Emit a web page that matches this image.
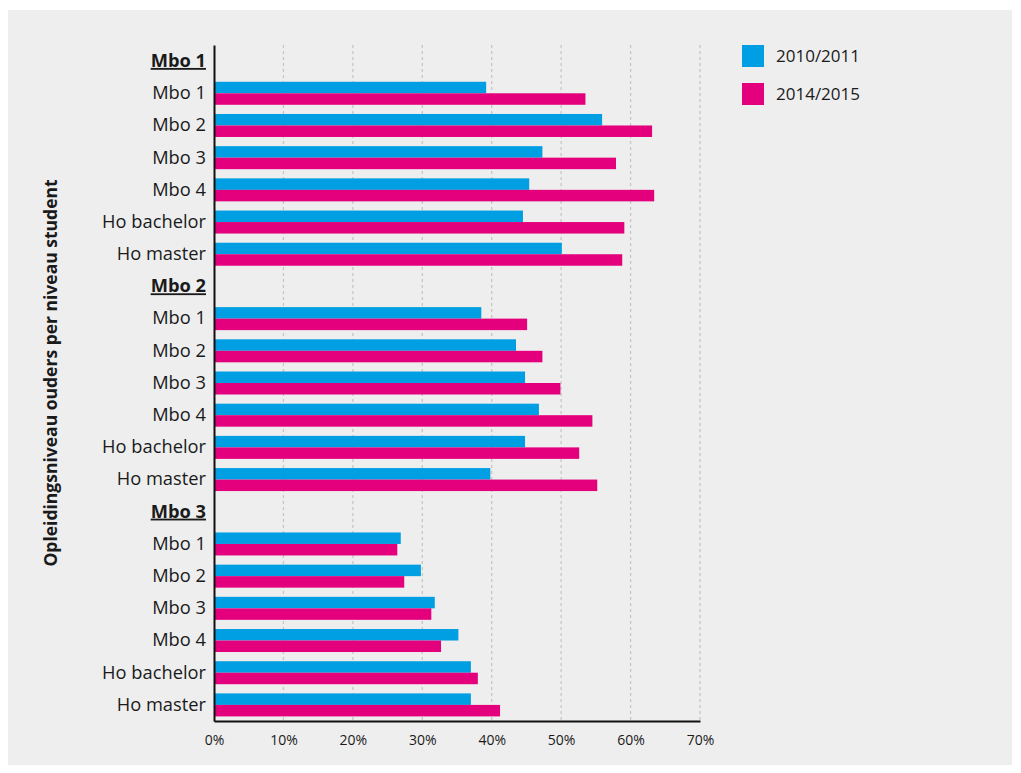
<!DOCTYPE html>
<html>
<head>
<meta charset="utf-8">
<script src="https://cdn.jsdelivr.net/npm/d3@7"></script>
<style>
  body { margin: 0; background: #ffffff; }
  svg { display: block; }
  svg text { font-family: "Open Sans", "Noto Sans", sans-serif; }
</style>
</head>
<body>
<div id="chart"></div>
<script>
const WIDTH = 1021;
const HEIGHT = 773;

// groups (niveau student) and the rows inside each group (opleidingsniveau ouders)
const groups = ["Mbo 1", "Mbo 2", "Mbo 3"];
const levels = ["Mbo 1", "Mbo 2", "Mbo 3", "Mbo 4", "Ho bachelor", "Ho master"];

const seriesNames = ["2010/2011", "2014/2015"];
const seriesColors = ["#009ee2", "#e4007c"];

// percentages, in order groups x levels
const values2010 = [
  39.2, 55.9, 47.3, 45.4, 44.5, 50.1,
  38.5, 43.5, 44.8, 46.8, 44.8, 39.8,
  26.9, 29.8, 31.8, 35.2, 37.0, 37.0
];
const values2014 = [
  53.5, 63.1, 57.9, 63.4, 59.1, 58.8,
  45.1, 47.3, 49.9, 54.5, 52.6, 55.2,
  26.4, 27.4, 31.3, 32.7, 38.0, 41.2
];

const xTicks = [0, 10, 20, 30, 40, 50, 60, 70];
const yTitle = "Opleidingsniveau ouders per niveau student";

const margin = { top: 45, left: 214, right: 321, bottom: 52 };

//Build row list: a header row per group, then its levels
let rows = [];
let bars = [];
groups.forEach((g, gi) => {
  rows.push({ key: "h" + gi, label: g, header: true });
  levels.forEach((l, li) => {
    let key = "r" + gi + "_" + li;
    rows.push({ key: key, label: l, header: false });
    let idx = gi * levels.length + li;
    bars.push({ key: key, series: 0, value: values2010[idx] });
    bars.push({ key: key, series: 1, value: values2014[idx] });
  });
});

let svg = d3
  .select("#chart")
  .append("svg")
  .attr("width", WIDTH)
  .attr("height", HEIGHT);

//Gray panel
svg
  .append("rect")
  .attr("x", 8)
  .attr("y", 10)
  .attr("width", 1004)
  .attr("height", 755)
  .attr("fill", "#eeeeee");

let x = d3
  .scaleLinear()
  .domain([0, 70])
  .range([margin.left, WIDTH - margin.right]);

let y = d3
  .scaleBand()
  .domain(rows.map((r) => r.key))
  .range([margin.top, HEIGHT - margin.bottom])
  .paddingInner(0)
  .paddingOuter(0);

let ySeries = d3
  .scaleBand()
  .domain([0, 1])
  .range([0, y.bandwidth()])
  .paddingOuter(0.4);

//Grid lines
svg
  .append("g")
  .selectAll("line")
  .data(xTicks.slice(1))
  .enter()
  .append("line")
  .attr("x1", (d) => x(d))
  .attr("x2", (d) => x(d))
  .attr("y1", margin.top)
  .attr("y2", HEIGHT - margin.bottom)
  .attr("stroke", "#c6c6c6")
  .attr("stroke-width", 1.3)
  .attr("stroke-dasharray", "3,3");

//Bars
svg
  .append("g")
  .selectAll("rect")
  .data(bars)
  .enter()
  .append("rect")
  .attr("x", x(0))
  .attr("y", (d) => y(d.key) + ySeries(d.series))
  .attr("width", (d) => x(d.value) - x(0))
  .attr("height", ySeries.bandwidth())
  .attr("fill", (d) => seriesColors[d.series]);

//X axis
let xAxis = svg
  .append("g")
  .attr("transform", "translate(0," + (HEIGHT - margin.bottom) + ")")
  .call(
    d3
      .axisBottom(x)
      .tickValues(xTicks)
      .tickSize(0)
      .tickPadding(14)
      .tickFormat((d) => d + "%")
  );
xAxis.select(".domain").attr("stroke", "#111").attr("stroke-width", 2);
xAxis
  .selectAll("text")
  .style("font-size", "14px")
  .attr("fill", "#1a1a1a");

//Y axis
let yAxis = svg
  .append("g")
  .attr("transform", "translate(" + margin.left + ",0)")
  .call(
    d3
      .axisLeft(y)
      .tickSize(0)
      .tickPadding(8)
      .tickFormat((k) => rows.find((r) => r.key === k).label)
  );
yAxis.select(".domain").attr("stroke", "#111").attr("stroke-width", 2);
yAxis
  .selectAll("text")
  .style("font-size", "18.3px")
  .attr("fill", "#1a1a1a")
  .style("font-weight", (k) => (rows.find((r) => r.key === k).header ? "bold" : "normal"))
  .style("text-decoration", (k) => (rows.find((r) => r.key === k).header ? "underline" : "none"));

//Y title
svg
  .append("text")
  .attr("transform", "translate(57," + 373 + ") rotate(-90)")
  .attr("text-anchor", "middle")
  .style("font-size", "17.5px")
  .style("font-weight", "bold")
  .attr("fill", "#1a1a1a")
  .text(yTitle);

//Legend
let legend = svg
  .append("g")
  .selectAll("g")
  .data(seriesNames)
  .enter()
  .append("g")
  .attr("transform", (d, i) => "translate(742," + (45 + i * 38) + ")");

legend
  .append("rect")
  .attr("width", 22)
  .attr("height", 22)
  .attr("fill", (d, i) => seriesColors[i]);

legend
  .append("text")
  .attr("x", 34)
  .attr("y", 11)
  .attr("dy", "0.35em")
  .style("font-size", "17px")
  .attr("fill", "#1a1a1a")
  .text((d) => d);
</script>
</body>
</html>
